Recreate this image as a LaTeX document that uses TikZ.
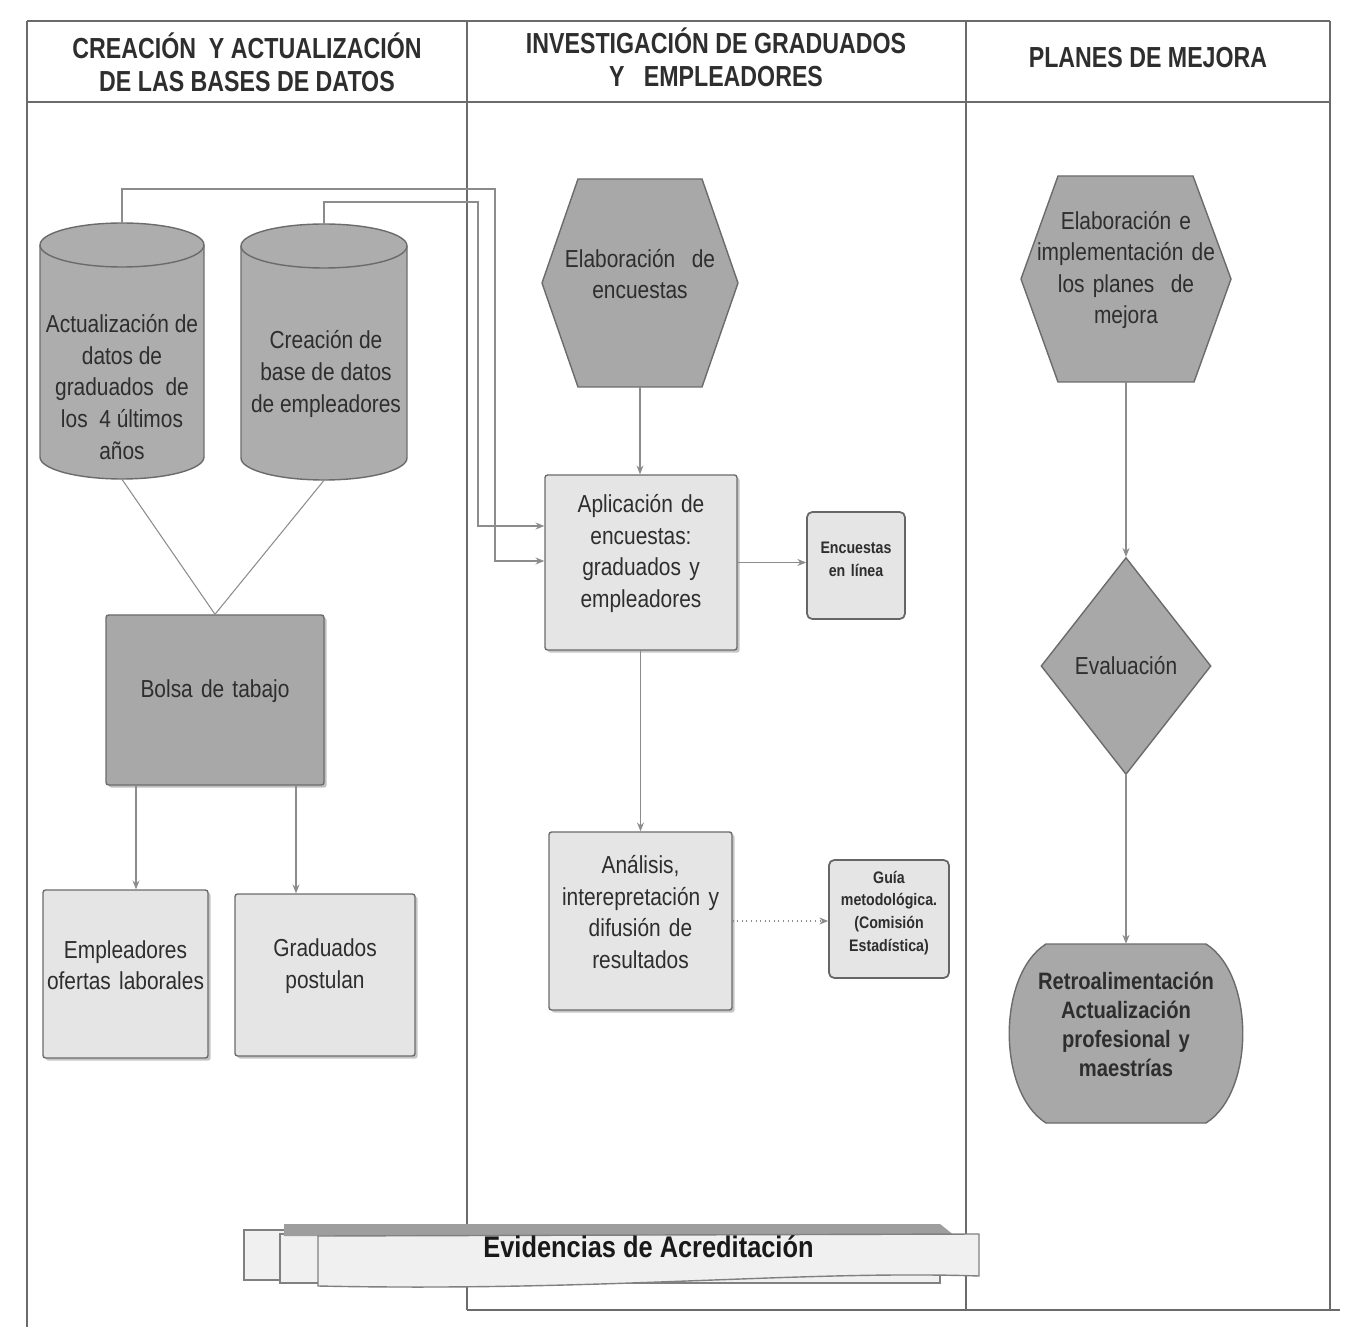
\documentclass[tikz,border=0pt]{standalone}
\usepackage{fontspec}
\setmainfont{Liberation Sans}[FakeStretch=0.85]
\newfontfamily\hdfont{Liberation Sans}[FakeStretch=0.8]
\usetikzlibrary{shapes.geometric,arrows.meta,fit,shadows}
\definecolor{ink}{gray}{0.18}
\definecolor{framec}{gray}{0.42}
\definecolor{connc}{gray}{0.55}
\definecolor{darkf}{gray}{0.66}
\definecolor{cylf}{gray}{0.68}
\definecolor{lightf}{gray}{0.90}
\definecolor{edgec}{gray}{0.42}
\begin{document}
\begin{tikzpicture}[x=0.02cm, y=-0.02cm,
  txt/.style={font=\fontsize{14}{18}\selectfont, text=ink, align=center},
  smalltxt/.style={font=\bfseries\fontsize{9.5}{13}\selectfont, text=ink, align=center},
  hdr/.style={font=\hdfont\bfseries\fontsize{16.5}{19}\selectfont, text=ink, align=center},
  frameline/.style={draw=framec, line width=1.1pt},
  conn/.style={draw=connc, line width=0.6pt},
  arr/.style={conn, -{Stealth[length=5pt,width=4pt]}},
  darkshape/.style={draw=edgec, fill=darkf, line width=0.8pt},
  lightbox/.style={inner sep=0pt, fit={#1}, draw=edgec, fill=lightf, line width=0.8pt,
     rounded corners=1.5pt, drop shadow={shadow xshift=1.5pt, shadow yshift=-1.5pt, fill=black!45}},
  darkbox/.style={inner sep=0pt, fit={#1}, draw=edgec, fill=darkf, line width=0.8pt,
     rounded corners=1.5pt, drop shadow={shadow xshift=1.5pt, shadow yshift=-1.5pt, fill=black!50}},
  smallbox/.style={inner sep=0pt, fit={#1}, draw=black!60, fill=lightf, line width=1pt,
     rounded corners=3pt},
  page/.style={draw=black!50, fill=black!6, line width=0.8pt},
  ]
\useasboundingbox (0,0) rectangle (1350,1327);

% ---------- frame ----------
\draw[frameline] (27,21) -- (1330,21);
\draw[frameline] (27,102) -- (1330,102);
\draw[frameline] (27,21) -- (27,1327);
\draw[frameline] (467,21) -- (467,1310);
\draw[frameline] (966,21) -- (966,1310);
\draw[frameline] (1330,21) -- (1330,1310);
\draw[frameline] (467,1310) -- (1340,1310);

\node[hdr] (h1) at (247,62) {CREACIÓN\ \ Y ACTUALIZACIÓN\\DE LAS BASES DE DATOS};
\node[hdr] (h2) at (716,57) {INVESTIGACIÓN DE GRADUADOS\\Y\ \ \ EMPLEADORES};
\node[hdr] (h3) at (1148,58) {PLANES DE MEJORA};

% ---------- column 1 ----------
\draw[darkshape, fill=cylf] (40,245) -- (40,457)
  arc[start angle=180, end angle=360, x radius=1.64cm, y radius=0.44cm] -- (204,245)
  arc[start angle=0, end angle=180, x radius=1.64cm, y radius=0.44cm] -- cycle;
\draw[edgec, line width=0.8pt] (40,245) arc[start angle=180, end angle=360, x radius=1.64cm, y radius=0.44cm];
\node[inner sep=0pt, fit={(40,223) (204,479)}] (cyl1) {};
\node[txt] (cyl1t) at (122,387) {Actualización de\\datos de\\graduados\ \ de\\los\ \ 4 últimos\\años};

\draw[darkshape, fill=cylf] (241,246) -- (241,458)
  arc[start angle=180, end angle=360, x radius=1.66cm, y radius=0.44cm] -- (407,246)
  arc[start angle=0, end angle=180, x radius=1.66cm, y radius=0.44cm] -- cycle;
\draw[edgec, line width=0.8pt] (241,246) arc[start angle=180, end angle=360, x radius=1.66cm, y radius=0.44cm];
\node[inner sep=0pt, fit={(241,224) (407,480)}] (cyl2) {};
\node[txt] (cyl2t) at (326,374) {Creación de\\base de datos\\de empleadores};

\node[darkbox={(106,615) (324,785)}, txt] (bolsa) {Bolsa de tabajo};
\node[lightbox={(43,890) (208,1058)}, txt] (emp) {Empleadores\\ofertas laborales};
\node[lightbox={(235,894) (415,1056)}, txt] (grad) {Graduados\\postulan};

\draw[conn] (cyl1.south) -- (bolsa.north);
\draw[conn] (cyl2.south) -- (bolsa.north);
\draw[arr] (bolsa.south -| 136,0) -- (136,0 |- emp.north);
\draw[arr] (bolsa.south -| 296,0) -- (296,0 |- grad.north);

% ---------- column 2 ----------
\draw[darkshape] (542,283) -- (578,179) -- (702,179) -- (738,283) -- (702,387) -- (578,387) -- cycle;
\node[inner sep=0pt, fit={(542,179) (738,387)}, txt] (hex1) {Elaboración\ \ de\\encuestas};

\node[lightbox={(545,475) (737,650)}, txt] (apl) {Aplicación de\\encuestas:\\graduados y\\empleadores};
\node[smallbox={(807,512) (905,619)}, smalltxt] (enc) {Encuestas\\en línea};
\node[lightbox={(549,832) (732,1010)}, txt] (anal) {Análisis,\\interepretación y\\difusión de\\resultados};
\node[smallbox={(829,860) (949,978)}, smalltxt] (guia) {Guía\\metodológica.\\(Comisión\\Estadística)};

\draw[arr] (hex1.south) -- (hex1.south |- apl.north);
\draw[arr] (apl.east) -- (apl.east -| enc.west);
\draw[arr] (apl.south -| anal.north) -- (anal.north);
\draw[arr, dotted] (anal.east) -- (anal.east -| guia.west);

% connectors from the data bases
\coordinate (k1) at (495,189);
\coordinate (k1b) at (495,561);
\coordinate (k2) at (478,202);
\coordinate (k2b) at (478,526);
\draw[arr] (cyl1.north) |- (k1) -- (k1b) -- (k1b -| apl.west);
\draw[arr] (cyl2.north) |- (k2) -- (k2b) -- (k2b -| apl.west);

% ---------- column 3 ----------
\draw[darkshape] (1021,279) -- (1058,176) -- (1193,176) -- (1231,279) -- (1194,382) -- (1058,382) -- cycle;
\node[inner sep=0pt, fit={(1021,176) (1231,382)}, txt] (hex2) {Elaboración e\\implementación de\\los planes\ \ de\\mejora};

\node[diamond, darkshape, minimum width=3.4cm, minimum height=4.34cm, inner sep=0pt, txt] (eval) at (1126,666) {Evaluación};

\draw[darkshape] (1046,944) -- (1206,944)
  .. controls (1255,975) and (1255,1092) .. (1206,1123) -- (1046,1123)
  .. controls (997,1092) and (997,975) .. (1046,944) -- cycle;
\node[inner sep=0pt, fit={(1010,944) (1242,1123)}, txt, font=\bfseries\fontsize{13.5}{16.5}\selectfont] (retro) {Retroalimentación\\Actualización\\profesional y\\maestrías};

\draw[arr] (hex2.south) -- (eval.north);
\draw[arr] (eval.south) -- (retro.north);

% ---------- evidencias ----------
\draw[page] (244,1230) rectangle (900,1280);
\draw[page] (280,1234) rectangle (940,1283);
\fill[black!38] (284,1224) -- (940,1224) -- (955,1236) -- (284,1236) -- cycle;
\draw[page] (318,1236) -- (979,1234) -- (979,1276)
  .. controls (800,1270) and (600,1292) .. (318,1286) -- cycle;
\node[inner sep=0pt, fit={(318,1236) (979,1280)}, font=\bfseries\fontsize{17}{20}\selectfont, text=black!90] (evid) {Evidencias de Acreditación};

\end{tikzpicture}
\end{document}
